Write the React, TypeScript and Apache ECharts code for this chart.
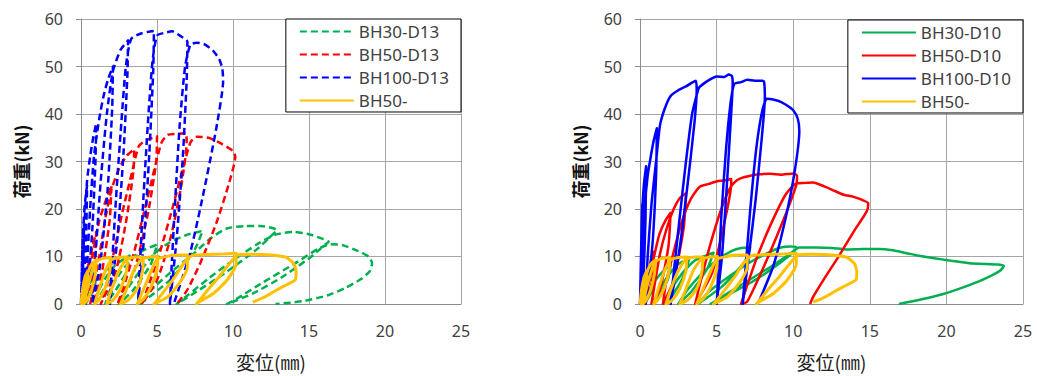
import React, { useEffect, useRef } from "react";
import * as echarts from "echarts";

// ---- axis settings ----
const xMax = 25;
const xStep = 5;
const yMax = 60;
const yStep = 10;
const xName = "変位(㎜)";
const yName = "荷重(kN)";

// ---- series names ----
const leftNames = ["BH30-D13", "BH50-D13", "BH100-D13", "BH50-"];
const rightNames = ["BH30-D10", "BH50-D10", "BH100-D10", "BH50-"];

// [displacement mm, load kN]
const bh30d13: number[][] = [
  [0, 0], [0.3, 2.8], [0.6, 4.5], [1.0, 5.6], [0.85, 3.2], [0.3, 0],
  [0.5, 2.2], [0.9, 4.6], [1.5, 6.8], [2.0, 8.0], [1.8, 4.8], [0.9, 0],
  [1.1, 2.4], [1.6, 5.4], [2.3, 8.3], [3.2, 10.2], [3.0, 6.8], [2.2, 2.5], [1.6, 0],
  [1.9, 2.8], [2.6, 6.6], [3.5, 10.0], [4.3, 11.6], [5.0, 12.5], [4.6, 8.4], [3.4, 2.8], [2.5, 0],
  [3.0, 3.0], [3.9, 7.0], [4.9, 10.8], [5.8, 12.9], [7.0, 14.6], [8.0, 15.4], [7.5, 11.6], [5.9, 5.2], [3.9, 0],
  [4.5, 2.6], [5.8, 6.4], [7.4, 10.6], [8.6, 14.0], [9.6, 15.9], [10.8, 16.4], [11.8, 16.4], [12.6, 16.0], [12.9, 15.5], [12.7, 14.9],
  [11.6, 11.6], [9.6, 6.8], [7.6, 2.6], [6.3, 0],
  [7.0, 1.8], [8.4, 5.4], [10.0, 9.2], [11.6, 12.6], [12.8, 14.6], [14.0, 15.2], [15.0, 14.7], [15.9, 13.7], [16.3, 13.1], [16.1, 12.6],
  [15.0, 9.6], [13.2, 5.6], [11.3, 2.2], [9.6, 0],
  [10.3, 1.2], [12.0, 4.6], [14.0, 8.4], [15.6, 11.6], [16.4, 12.6], [17.2, 12.4], [18.2, 11.2], [18.9, 10.0], [19.15, 8.6], [19.0, 6.9],
  [18.4, 5.2], [17.4, 3.4], [16.2, 1.8], [14.6, 0.6], [12.8, 0],
];

const bh50d13: number[][] = [
  [0, 0], [0.25, 4.5], [0.5, 8.5], [0.42, 4], [0.1, 0],
  [0.25, 4], [0.6, 10], [1.0, 15.2], [0.9, 9], [0.6, 3], [0.3, 0],
  [0.45, 4], [0.8, 11], [1.2, 17.5], [1.6, 21.5], [2.0, 25], [1.9, 18], [1.45, 8], [1.0, 2], [0.6, 0],
  [0.8, 3], [1.2, 10], [1.6, 18], [2.0, 24], [2.5, 28.5], [3.0, 31.2], [3.5, 32.6], [3.45, 28], [3.0, 18], [2.3, 7], [1.3, 0],
  [1.6, 3], [2.1, 10], [2.7, 19], [3.3, 27], [3.8, 33.2], [4.3, 34.5], [5.0, 35.3], [4.95, 30], [4.4, 19], [3.5, 7], [2.4, 0],
  [2.8, 3.5], [3.5, 11], [4.2, 20], [4.8, 28], [5.3, 34], [5.7, 35.6], [6.3, 35.8], [6.9, 36], [6.95, 34], [6.6, 25], [5.9, 14], [5.0, 5], [4.0, 0],
  [4.4, 3.5], [5.2, 11], [6.0, 20], [6.7, 28.5], [7.2, 34], [7.6, 35.2], [8.4, 35], [9.2, 33.8], [10.0, 32.2], [10.15, 31],
  [9.7, 25], [8.9, 17], [7.9, 9], [7.0, 3], [6.3, 0],
];

const bh100d13: number[][] = [
  [0, 0], [0.05, 6], [0.1, 12], [0.2, 17], [0.15, 9], [0.02, 0],
  [0.06, 8], [0.15, 16], [0.25, 21], [0.4, 25], [0.35, 16], [0.2, 5], [0.08, 0],
  [0.12, 8], [0.25, 18], [0.4, 26], [0.6, 31], [0.8, 35], [1.0, 38], [0.95, 30], [0.75, 16], [0.5, 5], [0.3, 0],
  [0.4, 8], [0.6, 20], [0.85, 31], [1.2, 39], [1.5, 44], [1.8, 47.5], [2.1, 50], [2.05, 41], [1.75, 24], [1.25, 8], [0.75, 0],
  [0.95, 10], [1.3, 26], [1.7, 40], [2.1, 49], [2.6, 53.5], [3.1, 55.5], [3.05, 48], [2.8, 32], [2.4, 14], [1.9, 0],
  [2.0, 6], [2.3, 22], [2.65, 38], [2.95, 50], [3.3, 55.8], [4.0, 57], [4.8, 57.5], [4.75, 49], [4.5, 32], [4.15, 14], [3.75, 0],
  [3.85, 7], [4.1, 22], [4.4, 38], [4.7, 51], [5.0, 56.5], [5.5, 57.1], [6.0, 57.4], [6.5, 56.5], [7.0, 55.2], [6.95, 47], [6.7, 31], [6.3, 14], [5.85, 0],
  [5.95, 7], [6.2, 22], [6.5, 38], [6.85, 50], [7.2, 54.6], [7.6, 55], [8.1, 54.7], [8.7, 53.3], [9.1, 51.5], [9.3, 49.5], [9.35, 47],
  [8.9, 37], [8.1, 24], [7.2, 11], [6.1, 0],
];

const bh30d10: number[][] = [
  [0, 0], [0.3, 3], [0.6, 4.8], [1.0, 5.8], [0.85, 3.2], [0.3, 0],
  [0.5, 2.2], [1.0, 5.0], [1.6, 7.2], [2.0, 8.2], [1.8, 5], [0.9, 0],
  [1.2, 2.6], [1.8, 5.8], [2.5, 8.4], [3.2, 9.5], [2.9, 6.2], [2.2, 2.2], [1.6, 0],
  [2.0, 3.0], [2.8, 6.6], [3.6, 9.2], [4.3, 10.2], [4.8, 10.8], [4.4, 7.5], [3.4, 2.8], [2.5, 0],
  [3.1, 3.0], [4.1, 6.6], [5.1, 9.4], [6.0, 11.2], [6.6, 11.8], [7.2, 11.9], [6.8, 8.8], [5.4, 3.8], [3.8, 0],
  [4.5, 2.6], [5.9, 6.0], [7.3, 9.0], [8.5, 11.0], [9.2, 11.9], [9.8, 12.1], [10.2, 12.0], [10.1, 11.2], [9.2, 8.8], [7.6, 5.2], [5.8, 2.0], [4.6, 0],
  [5.4, 1.6], [7.0, 4.8], [8.6, 8.0], [9.8, 10.6], [10.4, 11.9], [11.5, 11.9], [12.5, 11.8], [13.5, 11.5], [14.5, 11.6],
  [15.6, 11.6], [16.5, 11.3], [17.4, 10.7], [18.3, 10.1], [19.1, 9.7], [20.3, 9.1], [21.5, 8.6], [22.6, 8.4], [23.4, 8.3],
  [23.75, 8.0], [23.5, 7.0], [22.7, 5.6], [22.0, 4.6], [21.0, 3.4], [19.8, 2.1], [18.4, 1.0], [16.9, 0],
];

const bh50d10: number[][] = [
  [0, 0], [0.2, 2.5], [0.45, 5], [0.38, 2], [0.15, 0],
  [0.25, 2.5], [0.55, 7], [0.9, 11], [0.8, 5], [0.35, 0],
  [0.5, 3.5], [0.85, 9], [1.25, 14.5], [1.65, 17.5], [2.0, 19.2], [1.85, 12], [1.3, 3], [0.75, 0],
  [0.95, 4], [1.3, 10.5], [1.75, 16], [2.2, 20], [2.6, 22.3], [3.0, 23.3], [2.85, 16], [2.2, 5], [1.5, 0],
  [1.7, 4.5], [2.2, 11], [2.7, 17], [3.3, 22], [3.9, 24.7], [4.5, 25.3], [5.0, 25.8], [5.5, 26], [5.95, 26.3], [5.95, 25.2],
  [5.5, 17], [4.7, 6.5], [3.6, 0],
  [3.9, 4], [4.5, 11.5], [5.2, 19], [5.8, 24], [6.2, 25.7], [6.6, 26.5], [7.2, 27], [7.8, 27.3], [8.5, 27.4], [9.2, 27.2],
  [10.0, 27.5], [10.25, 27], [10.2, 25], [9.4, 18], [8.1, 8], [7.0, 0.5], [6.6, 0],
  [6.9, 3], [7.6, 9.5], [8.5, 16.5], [9.5, 23], [10.2, 25.4], [10.8, 25.5], [11.3, 25.6], [12.0, 24.8], [12.7, 23.8],
  [13.3, 23], [13.9, 22.6], [14.5, 21.9], [14.9, 21.2], [14.8, 19.5], [14.0, 15.5], [13.0, 10.2], [12.0, 5.2], [11.3, 1.5], [11.1, 0],
];

const bh100d10: number[][] = [
  [0, 0], [0.05, 8], [0.1, 15], [0.15, 21], [0.13, 10], [0.02, 0],
  [0.06, 9], [0.13, 18], [0.25, 25], [0.4, 29], [0.36, 18], [0.22, 5], [0.1, 0],
  [0.15, 10], [0.3, 20], [0.5, 27], [0.7, 31], [0.9, 34.5], [1.1, 37], [1.05, 27], [0.8, 12], [0.35, 0],
  [0.5, 10], [0.75, 21], [1.05, 30], [1.3, 37.5], [1.6, 41], [2.0, 43.8], [2.5, 45], [3.0, 45.8], [3.4, 46.6], [3.65, 47],
  [3.7, 45], [3.55, 38], [3.1, 25], [2.6, 12], [2.0, 0],
  [2.15, 5], [2.55, 17], [3.0, 30], [3.4, 40], [3.7, 44], [3.85, 45.5], [4.2, 46.5], [4.7, 47.5], [5.0, 47.9], [5.5, 47.8],
  [5.8, 48.3], [6.0, 48], [6.05, 46.5], [5.95, 40], [5.65, 24], [5.35, 10], [5.0, 0],
  [5.1, 5], [5.3, 18], [5.6, 32], [5.9, 42], [6.15, 46.3], [6.6, 46.7], [7.0, 47.2], [7.5, 47], [8.0, 47], [8.1, 46.8],
  [8.15, 43.5], [7.95, 35], [7.55, 22], [7.1, 10], [6.7, 0],
  [6.85, 6], [7.2, 20], [7.6, 33], [8.0, 41], [8.3, 43.2], [9.0, 42.8], [9.5, 42], [10.0, 40.8], [10.3, 39], [10.4, 36.5],
  [10.1, 28], [9.5, 18], [8.7, 8], [7.8, 0.8],
];

const bh50ref: number[][] = [
  [0, 0], [0.1, 3], [0.25, 5.5], [0.45, 7], [0.4, 4.5], [0.2, 1.5], [0.05, 0],
  [0.2, 3], [0.45, 6.5], [0.7, 8.4], [1.0, 9.2], [0.95, 6.5], [0.7, 3], [0.4, 0.8], [0.2, 0],
  [0.4, 3], [0.7, 6.5], [1.0, 8.8], [1.4, 9.6], [1.95, 9.8], [1.9, 7], [1.6, 3.5], [1.2, 1], [0.9, 0],
  [1.2, 3.2], [1.6, 7], [2.0, 9.3], [2.5, 9.8], [3.05, 9.9], [3.0, 7], [2.6, 3.2], [2.1, 0.8], [1.7, 0],
  [2.0, 3], [2.5, 7], [3.0, 9.4], [3.6, 9.9], [4.1, 9.9], [4.05, 7], [3.7, 3.2], [3.1, 0.8], [2.6, 0],
  [3.0, 3.2], [3.5, 7.2], [4.0, 9.4], [4.6, 9.9], [5.05, 10.0], [5.0, 7.2], [4.6, 3.5], [4.1, 1], [3.7, 0],
  [4.1, 3], [4.6, 6.8], [5.0, 9.4], [5.8, 10.1], [6.5, 10.3], [7.0, 10.3], [7.0, 7.8], [6.5, 4.5], [5.7, 1.5], [4.8, 0],
  [5.4, 2.4], [6.2, 5.8], [6.8, 8.8], [7.3, 10.2], [8.2, 10.4], [9.2, 10.5], [10.2, 10.7], [10.2, 8.4], [9.6, 5], [8.7, 2.2], [7.7, 0.3], [7.6, 0],
  [8.3, 2.8], [9.1, 5.8], [9.8, 8.6], [10.3, 10.3], [11.2, 10.5], [12.0, 10.4], [12.8, 10.2], [13.5, 9.8], [14.0, 8.5],
  [14.15, 6.8], [14.1, 5.1], [13.5, 4], [12.9, 3.0], [12.1, 1.5], [11.3, 0.4],
];

const colors = ["#00b050", "#ff0000", "#0000ff", "#ffc000"];

const FONT = "'Noto Sans', 'Noto Sans CJK JP', sans-serif";
const CJK = "'Noto Sans CJK JP', sans-serif";

function makeAxes(gridIndex: number) {
  const gridColor = "#a6a6a6";
  return {
    x: {
      gridIndex,
      type: "value",
      min: 0,
      max: xMax,
      interval: xStep,
      axisLine: { show: true, lineStyle: { color: "#8c8c8c", width: 1 } },
      axisTick: { show: false },
      splitLine: { show: true, lineStyle: { color: gridColor, width: 1 } },
      axisLabel: { color: "#404040", fontSize: 16, fontFamily: FONT, margin: 19 },
      name: xName,
      nameLocation: "middle",
      nameGap: 48,
      nameTextStyle: { color: "#222", fontSize: 19, fontFamily: CJK },
    },
    y: {
      gridIndex,
      type: "value",
      min: 0,
      max: yMax,
      interval: yStep,
      axisLine: { show: true, lineStyle: { color: "#8c8c8c", width: 1 } },
      axisTick: { show: true, length: 5, lineStyle: { color: "#8c8c8c" } },
      splitLine: { show: true, lineStyle: { color: gridColor, width: 1 } },
      axisLabel: { color: "#404040", fontSize: 16, fontFamily: FONT, margin: 18 },
      name: yName,
      nameLocation: "middle",
      nameRotate: 90,
      nameGap: 51,
      nameTextStyle: { color: "#111", fontSize: 18, fontWeight: "bold", fontFamily: CJK },
    },
  };
}

function lineSeries(name: string, data: number[][], idx: number, color: string, dashed: boolean, width: number) {
  return {
    type: "line",
    name,
    data,
    xAxisIndex: idx,
    yAxisIndex: idx,
    showSymbol: false,
    symbol: "none",
    smooth: 0.2,
    clip: true,
    color,
    itemStyle: { color },
    lineStyle: { color, width, type: dashed ? [7, 4] : "solid", cap: "butt", join: "round" },
  };
}

export default function App() {
  const ref = useRef<HTMLDivElement>(null);
  useEffect(() => {
    document.body.style.margin = "0";
    const chart = echarts.init(ref.current!, null, { renderer: "svg" });
    const la = makeAxes(0);
    const ra = makeAxes(1);
    const legendCommon = {
      orient: "vertical",
      itemWidth: 54,
      itemHeight: 18,
      itemGap: 6,
      borderColor: "#000",
      borderWidth: 1,
      backgroundColor: "#fff",
      padding: [4, 12, 3, 13],
      itemStyle: { opacity: 0 },
      textStyle: { color: "#404040", fontSize: 17, fontFamily: FONT },
      selectedMode: false,
    };
    chart.setOption({
      animation: false,
      backgroundColor: "#fff",
      grid: [
        { left: 81, top: 19, width: 380, height: 285 },
        { left: 640, top: 19, width: 383, height: 285 },
      ],
      xAxis: [la.x, ra.x],
      yAxis: [la.y, ra.y],
      legend: [
        { ...legendCommon, data: leftNames, right: 1037 - 461, top: 19 },
        { ...legendCommon, data: rightNames, right: 1037 - 1023, top: 20 },
      ],
      series: [
        lineSeries(leftNames[0], bh30d13, 0, colors[0], true, 2.5),
        lineSeries(leftNames[1], bh50d13, 0, colors[1], true, 2.5),
        lineSeries(leftNames[2], bh100d13, 0, colors[2], true, 2.5),
        lineSeries(leftNames[3], bh50ref, 0, colors[3], false, 3),
        lineSeries(rightNames[0], bh30d10, 1, colors[0], false, 2.5),
        lineSeries(rightNames[1], bh50d10, 1, colors[1], false, 2.5),
        lineSeries(rightNames[2], bh100d10, 1, colors[2], false, 2.5),
        lineSeries(rightNames[3], bh50ref, 1, colors[3], false, 3),
      ],
    });
    return () => chart.dispose();
  }, []);
  return <div ref={ref} style={{ width: 1037, height: 376 }} />;
}
